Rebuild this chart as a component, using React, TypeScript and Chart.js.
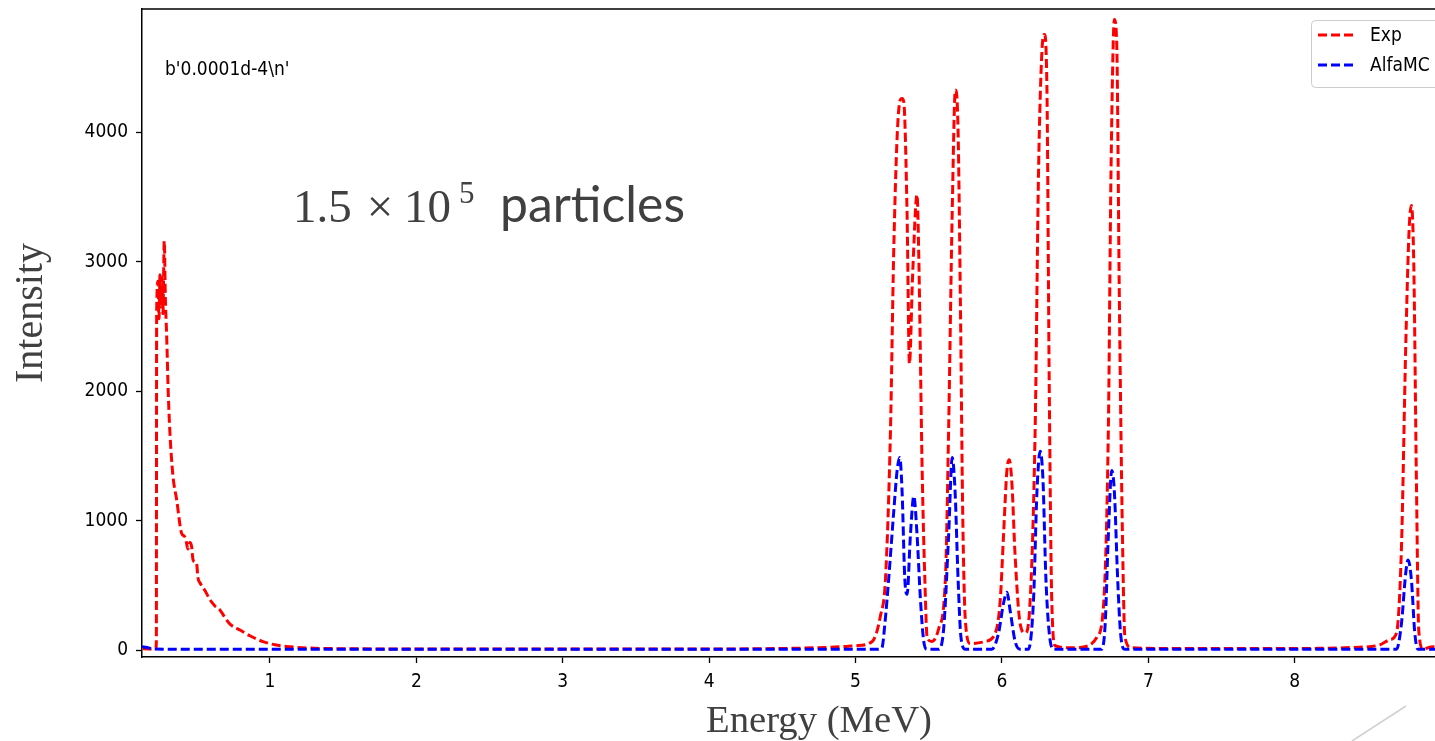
import React, { useEffect, useRef } from "react";
import { Chart, registerables } from "chart.js";

Chart.register(...registerables);

// Energy (MeV) / intensity
const expEnergy = [
  0.13, 0.17, 0.22, 0.224, 0.226, 0.235, 0.242, 0.249, 0.255, 0.262, 0.269, 0.278, 0.286, 0.294, 0.305,
  0.317, 0.337, 0.363, 0.397, 0.415, 0.426, 0.44, 0.452, 0.465, 0.474, 0.49, 0.499, 0.508, 0.522, 0.556,
  0.59, 0.624, 0.658, 0.693, 0.727, 0.795, 0.863, 0.952, 1.034, 1.137, 1.273, 1.5, 2.0, 2.5, 3.0, 3.5,
  4.0, 4.5, 4.8, 4.886, 4.95, 5.0, 5.114, 5.17, 5.205, 5.239, 5.26, 5.284, 5.305, 5.318, 5.33, 5.352,
  5.368, 5.39, 5.42, 5.432, 5.455, 5.473, 5.489, 5.52, 5.568, 5.614, 5.636, 5.66, 5.682, 5.7, 5.716,
  5.732, 5.75, 5.784, 5.886, 5.955, 5.989, 6.011, 6.034, 6.05, 6.068, 6.09, 6.125, 6.159, 6.19, 6.227,
  6.25, 6.273, 6.29, 6.307, 6.323, 6.34, 6.364, 6.477, 6.59, 6.648, 6.693, 6.727, 6.745, 6.768, 6.784,
  6.802, 6.823, 6.84, 6.886, 7.2, 7.6, 8.0, 8.4, 8.58, 8.65, 8.695, 8.729, 8.758, 8.781, 8.797, 8.813,
  8.831, 8.847, 8.876, 8.945, 9.04,
];
const expCounts = [
  10, 8, 10, 60, 2600, 2850, 2560, 2900, 2650, 2880, 2600, 3160, 2700, 2450, 2000,
  1675, 1350, 1160, 900, 880, 850, 780, 830, 800, 700, 680, 670, 560, 520, 460,
  390, 340, 310, 250, 200, 155, 110, 65, 40, 25, 15, 10, 8, 7, 7, 8,
  8, 12, 20, 25, 30, 33, 66, 264, 560, 1718, 3040, 3964, 4250, 4262, 4230, 3370,
  2213, 2900, 3518, 3040, 1388, 560, 99, 66, 165, 560, 1718, 3370, 4328, 4030, 2709,
  1057, 231, 50, 66, 132, 396, 892, 1388, 1470, 1288, 727, 198, 132, 330, 1718,
  3700, 4625, 4757, 4360, 2048, 396, 33, 17, 33, 99, 330, 1718, 3700, 4873, 4690,
  2709, 892, 99, 17, 12, 12, 12, 20, 39, 80, 131, 798, 2342, 3243, 3436, 2988,
  1313, 154, 10, 25, 15,
];

const mcEnergy = [
  0.126, 0.16, 0.2, 0.5, 1.0, 2.0, 3.0, 4.0, 5.15, 5.18, 5.2, 5.227, 5.26, 5.284, 5.302, 5.318, 5.336,
  5.352, 5.375, 5.398, 5.42, 5.443, 5.466, 5.489, 5.568, 5.602, 5.636, 5.66, 5.68, 5.7, 5.72, 5.75,
  5.93, 5.977, 6.011, 6.034, 6.057, 6.09, 6.125, 6.18, 6.216, 6.239, 6.261, 6.28, 6.3, 6.323, 6.352,
  6.68, 6.705, 6.727, 6.75, 6.768, 6.79, 6.81, 6.84, 7.5, 8.0, 8.695, 8.729, 8.758, 8.774, 8.797, 8.82,
  8.842, 9.04,
];
const mcCounts = [
  25, 20, 8, 5, 5, 5, 5, 5, 5, 17, 198, 560, 1057, 1388, 1487, 1222, 560,
  430, 892, 1189, 892, 396, 66, 5, 5, 165, 892, 1487, 1222, 560, 99, 5,
  5, 132, 363, 446, 297, 66, 5, 5, 396, 1222, 1536, 1321, 560, 132, 5,
  5, 198, 892, 1388, 1222, 560, 132, 5, 5, 5, 5, 206, 594, 695, 540, 131,
  5, 5,
];

const xTicks = [1, 2, 3, 4, 5, 6, 7, 8];
const yTicks = [0, 1000, 2000, 3000, 4000];
const seriesLabels = ["Exp", "AlfaMC"];
const seriesColors = ["#ff0000", "#0000ff"];
const noteText = "b'0.0001d-4\\n'";
const xTitle = "Energy (MeV)";
const yTitle = "Intensity";

const SANS = "'DejaVu Sans Condensed', 'Liberation Sans', sans-serif";
const SERIF = "'Liberation Serif', serif";
const DASH = [9, 4];

const textPlugin = {
  id: "overlayText",
  afterDraw(chart: any) {
    const ctx = chart.ctx as CanvasRenderingContext2D;
    const a = chart.chartArea;
    ctx.save();
    // top spine + right spine
    ctx.strokeStyle = "#000";
    ctx.lineWidth = 1.5;
    ctx.beginPath();
    ctx.moveTo(a.left - 0.75, a.top);
    ctx.lineTo(a.right, a.top);
    ctx.lineTo(a.right, a.bottom);
    ctx.stroke();

    // note text
    ctx.fillStyle = "#000";
    ctx.font = `19px ${SANS}`;
    ctx.textBaseline = "alphabetic";
    ctx.textAlign = "left";
    ctx.fillText(noteText, 165, 75);

    // legend
    const lx = 1311.5, ly = 20.5, lw = 150, lh = 67;
    ctx.beginPath();
    (ctx as any).roundRect(lx, ly, lw, lh, 4);
    ctx.fillStyle = "rgba(255,255,255,0.85)";
    ctx.fill();
    ctx.strokeStyle = "#cccccc";
    ctx.lineWidth = 1;
    ctx.stroke();
    const rows = [35, 65];
    seriesLabels.forEach((lab, i) => {
      ctx.setLineDash(DASH);
      ctx.strokeStyle = seriesColors[i];
      ctx.lineWidth = 3;
      ctx.beginPath();
      ctx.moveTo(1318, rows[i]);
      ctx.lineTo(1354, rows[i]);
      ctx.stroke();
      ctx.setLineDash([]);
      ctx.fillStyle = "#000";
      ctx.font = `19px ${SANS}`;
      ctx.textBaseline = "middle";
      ctx.fillText(lab, 1370, rows[i] + 1);
    });

    // axis titles
    const fit = (text: string, family: string, target: number, base: number) => {
      ctx.font = `${base}px ${family}`;
      const w = ctx.measureText(text).width;
      return (base * target) / w;
    };
    ctx.fillStyle = "#404040";
    ctx.textBaseline = "alphabetic";
    const xs = fit(xTitle, SERIF, 226, 38);
    ctx.font = `${xs}px ${SERIF}`;
    ctx.textAlign = "left";
    ctx.fillText(xTitle, 706, 732);

    const ys = fit(yTitle, SERIF, 140, 38);
    ctx.save();
    ctx.translate(42, 313);
    ctx.rotate(-Math.PI / 2);
    ctx.font = `${ys}px ${SERIF}`;
    ctx.textAlign = "center";
    ctx.fillText(yTitle, 0, 0);
    ctx.restore();

    // particle count annotation
    ctx.textAlign = "left";
    ctx.font = `47px ${SERIF}`;
    ctx.fillText("1.5", 293, 222);
    const tw = ctx.measureText("\u00d7").width;
    ctx.fillText("\u00d7", 380 - tw / 2, 222);
    ctx.fillText("10", 404, 222);
    ctx.font = `31px ${SERIF}`;
    ctx.fillText("5", 459, 203);
    const ps = fit("particles", "Lato, 'Open Sans', sans-serif", 185, 44);
    ctx.font = `${ps}px Lato, 'Open Sans', sans-serif`;
    ctx.fillText("particles", 500, 222);

    // slide decoration line
    ctx.strokeStyle = "#d0d0d0";
    ctx.lineWidth = 1.5;
    ctx.beginPath();
    ctx.moveTo(1352, 741);
    ctx.lineTo(1406, 706);
    ctx.stroke();
    ctx.restore();
  },
};

export default function App() {
  const ref = useRef<HTMLCanvasElement>(null);
  useEffect(() => {
    if (!ref.current) return;
    const lineStyle = {
      borderWidth: 3,
      borderDash: DASH,
      pointRadius: 0,
      cubicInterpolationMode: "monotone" as const,
      fill: false,
    };
    const chart = new Chart(ref.current, {
      type: "line",
      data: {
        datasets: [
          {
            label: seriesLabels[1],
            data: mcEnergy.map((x, i) => ({ x, y: mcCounts[i] })),
            borderColor: seriesColors[1],
            order: 0,
            ...lineStyle,
          },
          {
            label: seriesLabels[0],
            data: expEnergy.map((x, i) => ({ x, y: expCounts[i] })),
            borderColor: seriesColors[0],
            order: 1,
            ...lineStyle,
          },
        ],
      },
      options: {
        animation: false,
        responsive: false,
        maintainAspectRatio: false,
        devicePixelRatio: 1,
        layout: { padding: { top: 9, right: 13, left: 0, bottom: 0 } },
        plugins: { legend: { display: false }, tooltip: { enabled: false } },
        scales: {
          x: {
            type: "linear",
            min: 0.126,
            max: 9.04,
            afterBuildTicks: (s: any) => {
              s.ticks = xTicks.map((v) => ({ value: v }));
            },
            afterFit: (s: any) => {
              s.height = 84;
              s.paddingLeft = 0;
              s.paddingRight = 0;
            },
            ticks: {
              font: { family: SANS, size: 19 },
              color: "#000",
              padding: 8,
              maxRotation: 0,
              autoSkip: false,
              callback: (v: any) => String(v),
            },
            grid: { drawOnChartArea: false, tickLength: 6, tickColor: "#000", tickWidth: 1.3 },
            border: { color: "#000", width: 1.5 },
          },
          y: {
            type: "linear",
            min: -54,
            max: 4954,
            afterBuildTicks: (s: any) => {
              s.ticks = yTicks.map((v) => ({ value: v }));
            },
            afterFit: (s: any) => {
              s.width = 142;
              s.paddingTop = 0;
              s.paddingBottom = 0;
            },
            ticks: {
              font: { family: SANS, size: 19 },
              color: "#000",
              padding: 8,
              autoSkip: false,
              callback: (v: any) => String(v),
            },
            grid: { drawOnChartArea: false, tickLength: 6, tickColor: "#000", tickWidth: 1.3 },
            border: { color: "#000", width: 1.5 },
          },
        },
      },
      plugins: [textPlugin],
    });
    return () => chart.destroy();
  }, []);
  return (
    <div
      style={{
        position: "fixed",
        left: 0,
        top: 0,
        width: 1435,
        height: 741,
        overflow: "hidden",
        background: "#fff",
      }}
    >
      <canvas ref={ref} width={1460} height={741} style={{ display: "block", width: 1460, height: 741 }} />
    </div>
  );
}
